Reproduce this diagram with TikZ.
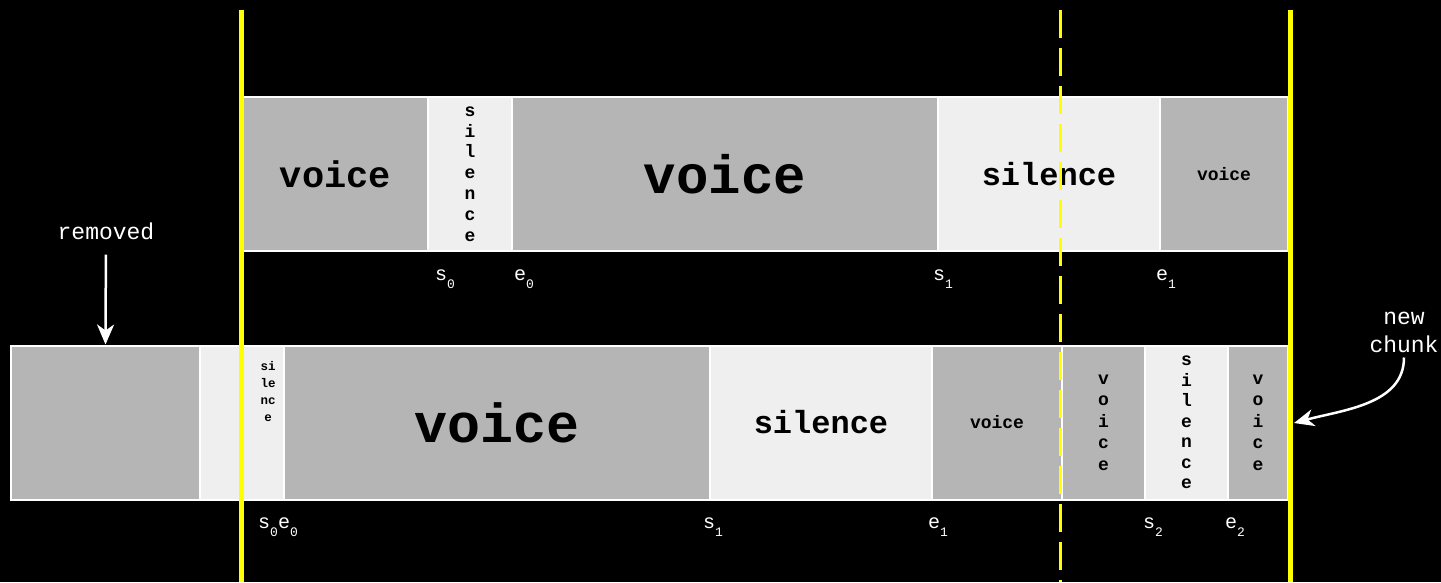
\documentclass[tikz,border=0pt]{standalone}
\usepackage{fontspec}
\setmonofont{Liberation Mono}
\usepackage{tikz}
\usetikzlibrary{arrows.meta, positioning}
\definecolor{grisVoz}{HTML}{B5B5B5}
\definecolor{grisSilencio}{HTML}{EFEFEF}
\definecolor{amarilloCorte}{HTML}{FFFF00}
\newcommand{\tamLetra}[2]{\ttfamily\bfseries\fontsize{#1}{#2}\selectfont}
\newcommand{\tamMarca}[2]{\ttfamily\fontsize{#1}{#2}\selectfont}
\newcommand{\indice}[1]{\raisebox{-8pt}{\fontsize{13}{13}\selectfont #1}}

\begin{document}
\begin{tikzpicture}[
        x=1pt, y=-1pt,
        voz/.style={draw=white, line width=2pt, fill=grisVoz, inner sep=0pt,
            minimum height=154pt, align=center},
        sil/.style={voz, fill=grisSilencio},
        marca/.style={text=white, inner sep=1pt, font=\tamMarca{20}{20}},
        flecha/.style={draw=white, line width=2.5pt, -{Stealth[length=20pt,width=17pt,inset=6pt]}},
        corte/.style={draw=amarilloCorte, line width=5pt},
        corteDash/.style={draw=amarilloCorte, line width=3pt, dash pattern=on 28pt off 10pt}
    ]
        \useasboundingbox[fill=black] (0,0) rectangle (1441,582);

        % first chunk
        \node[voz, minimum width=185pt, font=\tamLetra{37}{37}] (t1) at (335.5,174) {voice};
        \node[sil, minimum width=84pt, font=\tamLetra{18}{20.8}] (t2) at (470,174) {s\\i\\l\\e\\n\\c\\e};
        \node[voz, minimum width=426pt, font=\tamLetra{54}{54}] (t3) at (725,174) {voice};
        \node[sil, minimum width=222pt, font=\tamLetra{32}{32}] (t4) at (1049,174) {silence};
        \node[voz, minimum width=128pt, font=\tamLetra{18}{18}] (t5) at (1224,174) {voice};

        \node[marca] (ts0) at (445,279) {s\indice{0}};
        \node[marca] (te0) at (524,279) {e\indice{0}};
        \node[marca] (ts1) at (943,279) {s\indice{1}};
        \node[marca] (te1) at (1166,279) {e\indice{1}};

        % second chunk
        \node[voz, minimum width=189pt] (b1) at (105.5,422.5) {};
        \node[sil, minimum width=84pt] (b2) at (242,422.5) {};
        \node[voz, minimum width=426pt, font=\tamLetra{55}{55}] (b3) at (497,422.5) {\raisebox{-5pt}{voice}};
        \node[sil, minimum width=222pt, font=\tamLetra{32}{32}] (b4) at (821,422.5) {silence};
        \node[voz, minimum width=130pt, font=\tamLetra{18}{18}] (b5) at (997,422.5) {voice};
        \node[voz, minimum width=83pt, font=\tamLetra{18}{21.5}] (b6) at (1103.5,422.5) {v\\o\\i\\c\\e};
        \node[sil, minimum width=83pt, font=\tamLetra{18}{20.5}] (b7) at (1186.5,422.5) {s\\i\\l\\e\\n\\c\\e};
        \node[voz, minimum width=60pt, font=\tamLetra{18}{21.5}] (b8) at (1258,422.5) {v\\o\\i\\c\\e};
        \node[font=\tamLetra{12.5}{17}, align=center, inner sep=0pt] (b2txt) at (268,392) {si\\le\\nc\\e};

        \node[marca] (bs0e0) at (278,527) {s\indice{0}e\indice{0}};
        \node[marca] (bs1) at (713,527) {s\indice{1}};
        \node[marca] (be1) at (938,527) {e\indice{1}};
        \node[marca] (bs2) at (1153,527) {s\indice{2}};
        \node[marca] (be2) at (1235,527) {e\indice{2}};

        % annotations
        \node[marca, font=\tamMarca{23}{23}] (removed) at (106,231) {removed};
        \node[marca, font=\tamMarca{23}{28}, align=center] (newchunk) at (1404,332) {new\\chunk};
        \coordinate (chunkEdge) at (1294,423);

        \draw[flecha, shorten <=14pt] (removed) -- (b1.north);
        \draw[flecha, shorten <=4pt] (newchunk.south) to[out=-90, in=15] (chunkEdge);

        % cut lines
        \draw[corte] (241,10) -- (241,582);
        \draw[corte] (1290,10) -- (1290,582);
        \draw[corteDash] (1060,10) -- (1060,582);
    \end{tikzpicture}
\end{document}
